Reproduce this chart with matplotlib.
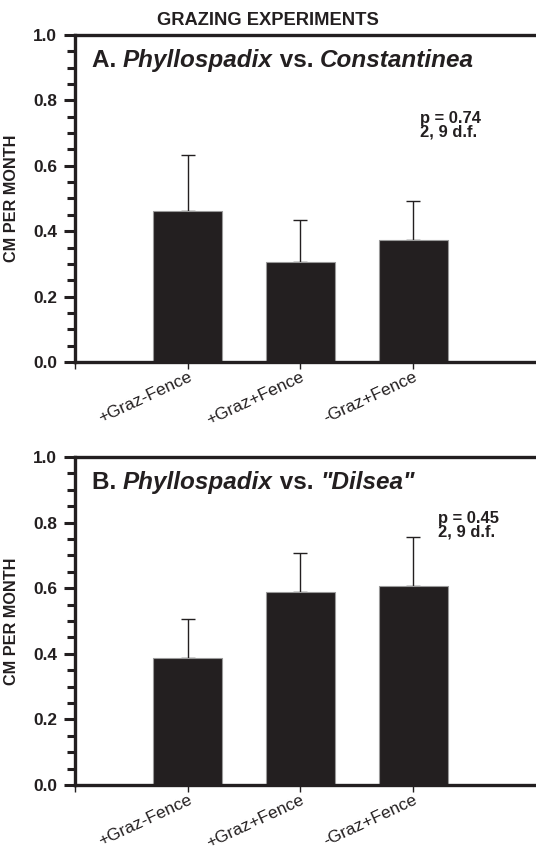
import matplotlib
matplotlib.use("Agg")
import matplotlib.pyplot as plt
from matplotlib.ticker import MultipleLocator
import matplotlib.transforms as mtransforms

plt.rcParams['font.family'] = ['Liberation Sans', 'DejaVu Sans']

# data
categories = ["+Graz-Fence", "+Graz+Fence", "-Graz+Fence"]
vals_a = [0.463, 0.305, 0.374]
err_a = [0.170, 0.128, 0.118]
vals_b = [0.387, 0.588, 0.607]
err_b = [0.118, 0.118, 0.149]
p_a = "p = 0.74\n2, 9 d.f."
p_b = "p = 0.45\n2, 9 d.f."
title_a = [("A. ", "normal"), ("Phyllospadix", "italic"), (" vs. ", "normal"), ("Constantinea", "italic")]
title_b = [("B. ", "normal"), ("Phyllospadix", "italic"), (" vs. ", "normal"), ('"Dilsea"', "italic")]

BAR = "#231f20"

fig = plt.figure(figsize=(5.36, 8.51), dpi=100)
ax1 = fig.add_axes([0.14, 0.5746, 0.86, 0.3843])
ax2 = fig.add_axes([0.14, 0.0776, 0.86, 0.3854])


def draw_title(ax, parts, x, y):
    prev = None
    for txt, style in parts:
        if prev is None:
            prev = ax.text(x, y, txt, fontsize=17.5, fontweight="bold", fontstyle=style,
                           ha="left", va="baseline", color=BAR)
        else:
            prev = ax.annotate(txt, xy=(1, 0), xycoords=prev, fontsize=17.5, fontweight="bold",
                               fontstyle=style, ha="left", va="bottom", color=BAR)


def panel(ax, vals, errs, ptxt, px, py, tparts):
    x = [1, 2, 3]
    ax.bar(x, vals, width=0.61, color=BAR, edgecolor="#9a9a9a", linewidth=0.8, zorder=2)
    ax.errorbar(x, vals, yerr=[[0, 0, 0], errs], fmt="none", ecolor=BAR,
                elinewidth=1.0, capsize=5, capthick=1.0, zorder=1)
    ax.set_xlim(0, 4.09)
    ax.set_ylim(0, 1.0)
    ax.yaxis.set_major_locator(MultipleLocator(0.2))
    ax.yaxis.set_minor_locator(MultipleLocator(0.05))
    ax.yaxis.set_major_formatter(plt.FormatStrFormatter("%.1f"))
    ax.set_xticks([0, 1, 2, 3])
    ax.set_xticklabels([""] + categories, rotation=25, ha="right", rotation_mode="anchor",
                       fontsize=12.4, color=BAR)
    shift = mtransforms.ScaledTranslation(7 / 72, 0, fig.dpi_scale_trans)
    for lab in ax.get_xticklabels():
        lab.set_transform(lab.get_transform() + shift)
    ax.tick_params(axis="y", which="major", length=8, width=2.2, labelsize=12.4, pad=5,
                   direction="out", colors=BAR)
    ax.tick_params(axis="y", which="minor", length=6, width=2.2, direction="out", colors=BAR)
    ax.tick_params(axis="x", length=5, width=1, direction="out", pad=0.3, colors=BAR)
    for lab in ax.get_yticklabels():
        lab.set_fontweight("bold")
    for s in ["left", "bottom", "top"]:
        ax.spines[s].set_linewidth(2.4)
        ax.spines[s].set_color(BAR)
    ax.spines["right"].set_visible(False)
    ax.set_ylabel("CM PER MONTH", fontsize=11.7, fontweight="bold", color=BAR)
    ax.yaxis.set_label_coords(-0.121, 0.5)
    ax.text(px, py, ptxt, fontsize=11.9, fontweight="bold", ha="left", va="top",
            linespacing=0.88, color=BAR)
    draw_title(ax, tparts, 0.15, 0.902)


panel(ax1, vals_a, err_a, p_a, 3.06, 0.767, title_a)
panel(ax2, vals_b, err_b, p_b, 3.22, 0.835, title_b)

fig.text(0.5, 0.9706, "GRAZING EXPERIMENTS", ha="center", va="baseline", fontsize=13.2,
         fontweight="bold", color=BAR)

fig.savefig("out.png", dpi=100)
